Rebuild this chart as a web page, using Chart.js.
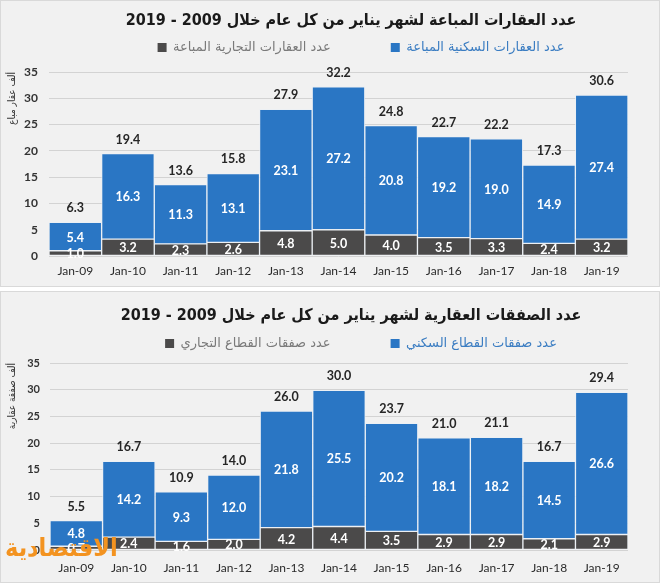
<!DOCTYPE html>
<html><head><meta charset="utf-8">
<script src="https://cdn.jsdelivr.net/npm/chart.js@4.4.1/dist/chart.umd.min.js"></script>
<style>
html,body{margin:0;padding:0;background:#fff;}
#wrap{position:relative;width:660px;height:583px;overflow:hidden;background:#fff;}
.panel{position:absolute;left:0;width:660px;background:#f1f1f1;box-shadow:inset 0 0 0 1px #d9d9d9;}
#p1{top:0;height:287px;}
#p2{top:291px;height:292px;}
.panel canvas{display:block;}
#wm{position:absolute;left:5px;top:533px;font:bold 25px "DejaVu Sans Condensed","DejaVu Sans";color:#f39320;z-index:5;}
</style></head>
<body>
<div id="wrap">
  <div class="panel" id="p1"><canvas id="c1" width="660" height="287"></canvas></div>
  <div class="panel" id="p2"><canvas id="c2" width="660" height="292"></canvas></div>
  <div id="wm">الاقتصادية</div>
</div>
<script>
// ---------- data ----------
const categories = ['Jan-09','Jan-10','Jan-11','Jan-12','Jan-13','Jan-14','Jan-15','Jan-16','Jan-17','Jan-18','Jan-19'];

// Chart 1: properties sold (thousand)
const soldTitle = 'عدد العقارات المباعة لشهر يناير من كل عام خلال 2009 - 2019';
const soldYTitle = 'ألف عقار مباع';
const soldResLabel = 'عدد العقارات السكنية المباعة';
const soldComLabel = 'عدد العقارات التجارية المباعة';
const soldResidential = [5.4, 16.3, 11.3, 13.1, 23.1, 27.2, 20.8, 19.2, 19.0, 14.9, 27.4];
const soldCommercial  = [1.0, 3.2, 2.3, 2.6, 4.8, 5.0, 4.0, 3.5, 3.3, 2.4, 3.2];
const soldTotal       = [6.3, 19.4, 13.6, 15.8, 27.9, 32.2, 24.8, 22.7, 22.2, 17.3, 30.6];

// Chart 2: real-estate deals (thousand)
const dealsTitle = 'عدد الصفقات العقارية لشهر يناير من كل عام خلال 2009 - 2019';
const dealsYTitle = 'ألف صفقة عقارية';
const dealsResLabel = 'عدد صفقات القطاع السكني';
const dealsComLabel = 'عدد صفقات القطاع التجاري';
const dealsResidential = [4.8, 14.2, 9.3, 12.0, 21.8, 25.5, 20.2, 18.1, 18.2, 14.5, 26.6];
const dealsCommercial  = [0.7, 2.4, 1.6, 2.0, 4.2, 4.4, 3.5, 2.9, 2.9, 2.1, 2.9];
const dealsTotal       = [5.5, 16.7, 10.9, 14.0, 26.0, 30.0, 23.7, 21.0, 21.1, 16.7, 29.4];

const yMax = 35, yStep = 5;

// ---------- styling ----------
const BLUE = '#2a76c4', DARK = '#4b4a4a';
const BLUE_TXT = '#3b7dc2', GRAY_TXT = '#7a7a7a';
const AR = '"DejaVu Sans", sans-serif';
const ARC = '"DejaVu Sans Condensed", "DejaVu Sans", sans-serif';
const NUM = 'Lato, "DejaVu Sans", sans-serif';

function makeChart(id, o) {
  const layoutPlugin = {
    id: 'layoutTweak',
    beforeLayout(chart) {
      const lg = chart.legend;
      if (lg && !lg._patched) {
        const f = lg.fit;
        lg.fit = function () { f.call(this); this.height = o.legendHeight; };
        lg._patched = true;
      }
    },
    afterLayout(chart) {
      if (chart.titleBlock) { chart.titleBlock.left += o.titleShift; chart.titleBlock.right += o.titleShift; }
      if (chart.legend) { chart.legend.left += o.legendShift; chart.legend.right += o.legendShift; }
    },
    afterDatasetsDraw(chart) {
      const ctx = chart.ctx;
      ctx.save();
      ctx.textAlign = 'center';
      ctx.textBaseline = 'middle';
      ctx.font = 'bold 12.5px ' + NUM;
      ctx.fillStyle = '#ffffff';
      chart.data.datasets.forEach((ds, di) => {
        const meta = chart.getDatasetMeta(di);
        meta.data.forEach((bar, i) => {
          const cy = (bar.y + bar.base) / 2 + 1;
          ctx.fillText(ds.data[i].toFixed(1), bar.x, cy);
        });
      });
      const topMeta = chart.getDatasetMeta(chart.data.datasets.length - 1);
      ctx.fillStyle = '#262626';
      topMeta.data.forEach((bar, i) => {
        ctx.fillText(o.totals[i].toFixed(1), bar.x, bar.y - 14);
      });
      ctx.restore();
    }
  };

  return new Chart(document.getElementById(id), {
    type: 'bar',
    data: {
      labels: categories,
      datasets: [
        { label: o.comLabel, data: o.commercial, backgroundColor: DARK, borderColor: 'rgba(235,240,245,0.85)', borderWidth: 1, borderSkipped: false, stack: 's' },
        { label: o.resLabel, data: o.residential, backgroundColor: BLUE, borderColor: 'rgba(235,240,245,0.85)', borderWidth: 1, borderSkipped: false, stack: 's' }
      ]
    },
    options: {
      responsive: false,
      animation: false,
      layout: { padding: { top: -20, left: 0, right: o.padRight, bottom: 0 } },
      datasets: { bar: { barPercentage: 1, categoryPercentage: 1 } },
      plugins: {
        title: {
          display: true, text: o.title, color: '#1a1a1a',
          font: { family: ARC, size: 16, weight: 'bold', lineHeight: 1.2 },
          padding: { top: o.titlePadTop, bottom: o.titlePadBottom }
        },
        legend: {
          display: true, position: 'top',
          labels: {
            boxWidth: 9, boxHeight: 9, padding: 60,
            font: { family: AR, size: 13 },
            generateLabels(chart) {
              const items = Chart.defaults.plugins.legend.labels.generateLabels(chart);
              items.forEach((it, k) => { it.fontColor = k === 0 ? GRAY_TXT : BLUE_TXT; it.lineWidth = 0; it.strokeStyle = 'rgba(0,0,0,0)'; });
              return items;
            }
          }
        },
        tooltip: { enabled: false }
      },
      scales: {
        x: {
          stacked: true,
          grid: { display: false, drawTicks: false },
          border: { display: false },
          ticks: { color: '#2b2b2b', padding: o.xPad, font: { family: NUM, size: 12 } },
          afterFit(axis) { axis.height = o.xAxisHeight; }
        },
        y: {
          stacked: true, min: 0, max: yMax,
          grid: { color: '#d3d3d3', drawTicks: false },
          border: { display: false },
          ticks: { stepSize: yStep, color: '#333', padding: o.yPad, font: { family: NUM, size: o.yTickSize, weight: 'bold' } },
          title: { display: true, text: o.yTitle, align: 'end', color: '#333', font: { family: ARC, size: 10 }, padding: { top: 6, bottom: 0 } },
          afterFit(axis) { axis.width = o.yAxisWidth; }
        }
      }
    },
    plugins: [layoutPlugin]
  });
}

makeChart('c1', {
  title: soldTitle, yTitle: soldYTitle, resLabel: soldResLabel, comLabel: soldComLabel,
  residential: soldResidential, commercial: soldCommercial, totals: soldTotal,
  titlePadTop: 30.8, titlePadBottom: -49, legendHeight: 91,
  titleShift: 37, legendShift: 47,
  xAxisHeight: 31, xPad: 8, yAxisWidth: 49, yPad: 11, yTickSize: 12, padRight: 32
});

makeChart('c2', {
  title: dealsTitle, yTitle: dealsYTitle, resLabel: dealsResLabel, comLabel: dealsComLabel,
  residential: dealsResidential, commercial: dealsCommercial, totals: dealsTotal,
  titlePadTop: 35.4, titlePadBottom: -48.6, legendHeight: 86,
  titleShift: 37, legendShift: 47,
  xAxisHeight: 33, xPad: 11, yAxisWidth: 50, yPad: 10, yTickSize: 11, padRight: 32
});
</script>
</body></html>
